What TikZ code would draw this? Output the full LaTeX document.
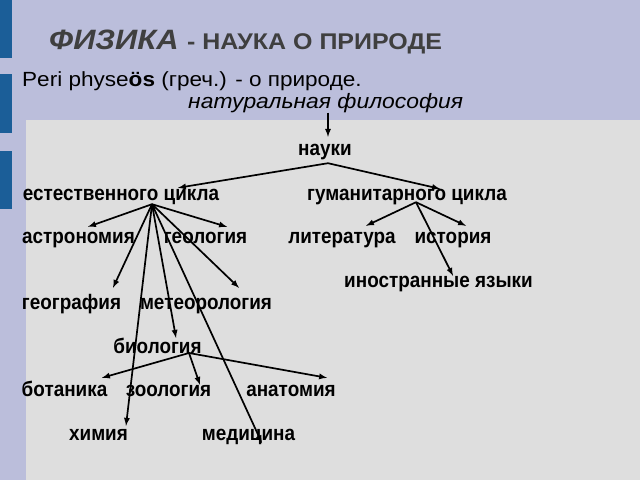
\documentclass[tikz,border=0pt]{standalone}
\usepackage{fontspec}
\setmainfont{Liberation Sans}
\newfontfamily\termfont{Liberation Sans}[FakeStretch=0.9]
\newfontfamily\headfont{Liberation Sans}[FakeStretch=1.1]
\usetikzlibrary{arrows}
\definecolor{slidebg}{HTML}{BBBEDB}
\definecolor{boxgrey}{HTML}{DEDEDE}
\definecolor{barblue}{HTML}{1B5E98}
\definecolor{titlegrey}{HTML}{3F3F3F}

\begin{document}
\begin{tikzpicture}[x=1pt, y=-1pt,
    term/.style={inner sep=0pt, text height=14pt, text depth=4pt, anchor=base,
      font=\termfont\bfseries\fontsize{21}{25}\selectfont},
    head/.style={inner sep=0pt, anchor=base west, font=\headfont},
    link/.style={-latex, line width=1.7pt}]
	\useasboundingbox (0,0) rectangle (640,480);
	% slide background
	\fill[slidebg] (0,0) rectangle (640,480);
	\fill[barblue] (0,0) rectangle (12,58);
	\fill[barblue] (0,74) rectangle (12,133);
	\fill[barblue] (0,151) rectangle (12,209);
	\fill[boxgrey] (26,120) rectangle (640,480);

	% heading
	\node[head, text=titlegrey] (title) at (49,49) {\fontsize{28}{32}\selectfont\bfseries\itshape ФИЗИКА \fontsize{22.7}{26}\selectfont\upshape - НАУКА О ПРИРОДЕ};
	\node[head] (greek) at (22,86) {\fontsize{20.5}{24}\selectfont Peri physe\textbf{ös} (греч.) - о природе.};
	\node[head] (phil) at (188,108) {\fontsize{20.8}{24}\selectfont\itshape натуральная философия};

	% terms
	\node[term] (nauki) at (325,155) {науки};
	\node[term] (est) at (121,200) {естественного цикла};
	\node[term] (gum) at (407,200) {гуманитарного цикла};
	\node[term] (astr) at (78.5,243) {астрономия};
	\node[term] (geol) at (205.5,243) {геология};
	\node[term] (lit) at (342,243) {литература};
	\node[term] (ist) at (453,243) {история};
	\node[term] (inos) at (438.5,287) {иностранные языки};
	\node[term] (geog) at (71.5,309) {география};
	\node[term] (meteo) at (206,309) {метеорология};
	\node[term] (bio) at (157.5,353) {биология};
	\node[term] (bot) at (64.5,396) {ботаника};
	\node[term] (zoo) at (168.5,396) {зоология};
	\node[term] (anat) at (291,396) {анатомия};
	\node[term] (khim) at (98.5,440) {химия};
	\node[term] (med) at (248.5,440) {медицина};

	% branch points
	\coordinate (naukitop) at ([xshift=3pt,yshift=4pt]nauki.north);
	\coordinate (naukib) at ([xshift=3pt,yshift=-4pt]nauki.south);
	\coordinate (estb) at ([xshift=31pt]est.south);
	\coordinate (gumb) at ([xshift=9pt,yshift=2pt]gum.south);
	\coordinate (biob) at ([xshift=31.5pt]bio.base);

	\draw[link] (naukitop |- phil.south) -- (naukitop);
	\draw[link] (naukib) -- ([xshift=57pt,yshift=-2pt]est.north);
	\draw[link] (naukib) -- ([xshift=33pt,yshift=-3pt]gum.north);

	\draw[link] (estb) -- ([xshift=9.5pt,yshift=2pt]astr.north);
	\draw[link] (estb) -- ([xshift=21.5pt,yshift=2pt]geol.north);
	\draw[link] (estb) -- ([xshift=41.5pt,yshift=7pt]geog.north);
	\draw[link] (estb) -- ([xshift=33pt,yshift=7pt]meteo.north);
	\draw[link] (estb) -- ([xshift=18.5pt,yshift=1pt]bio.north);
	\draw[link] (estb) -- ([xshift=27.5pt]khim.north);
	\draw[link] (estb) -- ([xshift=13.5pt,yshift=1pt]med.south);

	\draw[link] (gumb) -- ([xshift=24pt,yshift=3pt]lit.north);
	\draw[link] (gumb) -- ([xshift=13pt,yshift=3pt]ist.north);
	\draw[link] (gumb) -- ([xshift=14.5pt,yshift=-3pt]inos.north);

	\draw[link] (biob) -- ([xshift=37.5pt,yshift=4pt]bot.north);
	\draw[link] (biob) -- ([xshift=31.5pt,yshift=-3pt]zoo.north);
	\draw[link] (biob) -- ([xshift=36pt,yshift=4pt]anat.north);
\end{tikzpicture}
\end{document}
